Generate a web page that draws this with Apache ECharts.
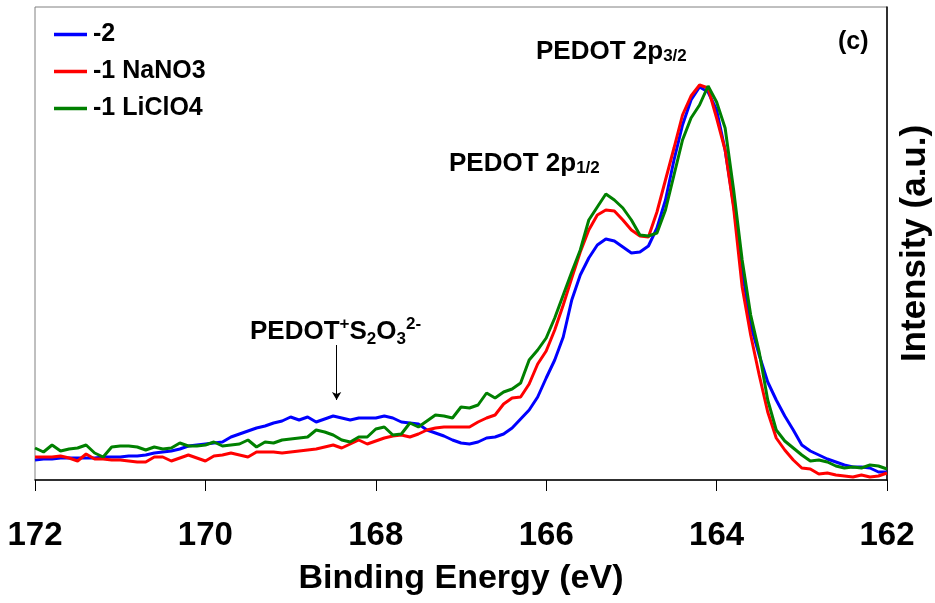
<!DOCTYPE html>
<html>
<head>
<meta charset="utf-8">
<script src="https://cdn.jsdelivr.net/npm/echarts@6/dist/echarts.min.js"></script>
<style>
html,body{margin:0;padding:0;background:#fff;}
#chart{width:935px;height:603px;}
</style>
</head>
<body>
<div id="chart"></div>
<script>
// Binding energy grid (eV)
const energy = [172.0,171.9,171.8,171.7,171.6,171.5,171.4,171.3,171.2,171.1,
171.0,170.9,170.8,170.7,170.6,170.5,170.4,170.3,170.2,170.1,
170.0,169.9,169.8,169.7,169.6,169.5,169.4,169.3,169.2,169.1,
169.0,168.9,168.8,168.7,168.6,168.5,168.4,168.3,168.2,168.1,
168.0,167.9,167.8,167.7,167.6,167.5,167.4,167.3,167.2,167.1,
167.0,166.9,166.8,166.7,166.6,166.5,166.4,166.3,166.2,166.1,
166.0,165.9,165.8,165.7,165.6,165.5,165.4,165.3,165.2,165.1,
165.0,164.9,164.8,164.7,164.6,164.5,164.4,164.3,164.2,164.1,
164.0,163.9,163.8,163.7,163.6,163.5,163.4,163.3,163.2,163.1,
163.0,162.9,162.8,162.7,162.6,162.5,162.4,162.3,162.2,162.1,162.0];

// Intensity (a.u.)
const seriesNames = ['-2', '-1 NaNO3', '-1 LiClO4'];
const intensityM2 = [20,21,21,22,22,22,22,22,23,23,
23,24,24,25,27,28,29,31,34,35,
36,37,38,43,46,49,52,54,57,59,
63,60,63,58,61,64,62,60,62,62,
62,64,62,58,57,56,50,47,44,40,
37,36,38,42,43,46,52,61,70,83,
102,120,143,180,205,222,235,241,239,233,
227,228,234,252,280,320,355,380,393,388,
370,330,275,210,155,125,98,80,64,50,
35,29,25,21,18,15,13,13,12,8,8];
const intensityNaNO3 = [23,23,23,24,22,19,26,21,21,20,
20,19,18,18,23,23,19,22,25,22,
19,24,25,27,25,23,28,28,28,27,
28,29,30,31,33,35,32,36,40,36,
39,42,44,45,43,46,50,52,53,53,
53,53,58,62,65,76,82,83,96,116,
129,150,175,202,228,250,265,270,269,260,
250,244,243,268,300,332,365,384,395,392,
362,330,272,193,145,105,68,42,30,20,
12,11,6,7,5,4,3,5,3,4,7];
const intensityLiClO4 = [32,28,35,29,31,32,35,27,23,33,
34,34,33,30,33,31,32,37,34,34,
35,38,34,35,36,40,33,38,37,40,
41,42,43,50,48,45,40,38,43,43,
51,53,45,46,57,53,59,65,64,62,
73,72,75,87,82,88,91,97,120,130,
142,162,185,208,230,260,273,286,280,272,
260,245,244,247,270,305,340,362,375,394,
378,352,290,220,165,128,80,50,39,32,
25,19,20,18,14,12,13,12,15,14,11];

const xTicks = [172,170,168,166,164,162];
const arrowX = 168.46, arrowTop = 135, arrowBottom = 80;

const FONT = 'Liberation Sans, Arial, Helvetica, sans-serif';
const colors = ['#0000FF', '#FF0000', '#008000'];
const allData = [intensityM2, intensityNaNO3, intensityLiClO4];

function pairs(vals){ return energy.map((e,i)=>[e, vals[i]]); }

const chart = echarts.init(document.getElementById('chart'), null, {renderer:'canvas'});

const series = seriesNames.map((n, k) => ({
  name: n,
  type: 'line',
  data: pairs(allData[k]),
  symbol: 'none',
  smooth: false,
  lineStyle: {color: colors[k], width: 3},
  itemStyle: {color: colors[k]},
  z: 3 + k,
  animation: false
}));
series[0].markLine = {
  silent: true,
  symbol: ['none', 'arrow'],
  symbolSize: [7, 8],
  label: {show: false},
  lineStyle: {color: '#000', width: 1, type: 'solid'},
  data: [[{coord: [arrowX, arrowTop]}, {coord: [arrowX, arrowBottom]}]],
  animation: false
};

const bold = {fontFamily: FONT, fontWeight: 'bold', color: '#000'};
const richMain = {fontSize: 26, fontWeight: 'bold', fontFamily: FONT, lineHeight: 30, verticalAlign: 'bottom'};
const richSub = {fontSize: 17, fontWeight: 'bold', fontFamily: FONT, lineHeight: 17, verticalAlign: 'bottom'};
const option = {
  backgroundColor: '#fff',
  animation: false,
  grid: {left: 35, right: 48, top: 7, bottom: 123, show: true, borderColor: '#808080', borderWidth: 1,
         containLabel: false, outerBoundsMode: 'none'},
  legend: {
    orient: 'vertical', left: 54, top: 22, padding: 0,
    icon: 'rect', itemWidth: 33, itemHeight: 3.5, itemGap: 12,
    textStyle: Object.assign({fontSize: 25, padding: [0,0,0,1]}, bold),
    data: seriesNames
  },
  xAxis: {
    type: 'value', min: 162, max: 172, interval: 2, inverse: true,
    name: 'Binding Energy (eV)', nameLocation: 'middle', nameGap: 82,
    nameTextStyle: Object.assign({fontSize: 34}, bold),
    axisLine: {show: true, lineStyle: {color: '#000', width: 1.5}},
    axisTick: {show: true, inside: false, length: 11, lineStyle: {color: '#000', width: 1}},
    axisLabel: Object.assign({fontSize: 33, margin: 39, formatter: v => String(v)}, bold),
    splitLine: {show: false}
  },
  yAxis: {
    type: 'value', min: 0, max: 473, position: 'right',
    name: 'Intensity (a.u.)', nameLocation: 'middle', nameGap: 11, nameRotate: 90,
    nameTextStyle: Object.assign({fontSize: 35}, bold),
    axisLine: {show: true, onZero: false, lineStyle: {color: '#000', width: 1.5}},
    axisTick: {show: false}, axisLabel: {show: false}, splitLine: {show: false}
  },
  graphic: [
    {type: 'text', left: 838, top: 30, style: {text: '(c)', fontSize: 25, fontWeight: 'bold', fontFamily: FONT, fill: '#000'}},
    {type: 'text', left: 536, top: 39, style: {
      text: '{m|PEDOT 2p}{s|3/2}', fill: '#000', rich: {m: richMain, s: richSub}}},
    {type: 'text', left: 449, top: 151, style: {
      text: '{m|PEDOT 2p}{s|1/2}', fill: '#000', rich: {m: richMain, s: richSub}}},
    {type: 'text', left: 250, top: 316, style: {
      text: '{m|PEDOT}{p|+}{m|S}{s|2}{m|O}{s|3}{p|2-}', fill: '#000',
      rich: {m: {fontSize: 26, fontWeight: 'bold', fontFamily: FONT, lineHeight: 32, verticalAlign: 'middle'},
             s: {fontSize: 17, fontWeight: 'bold', fontFamily: FONT, lineHeight: 17, verticalAlign: 'bottom'},
             p: {fontSize: 17, fontWeight: 'bold', fontFamily: FONT, lineHeight: 17, verticalAlign: 'top'}}}}
  ],
  series: series
};
chart.setOption(option);
</script>
</body>
</html>
